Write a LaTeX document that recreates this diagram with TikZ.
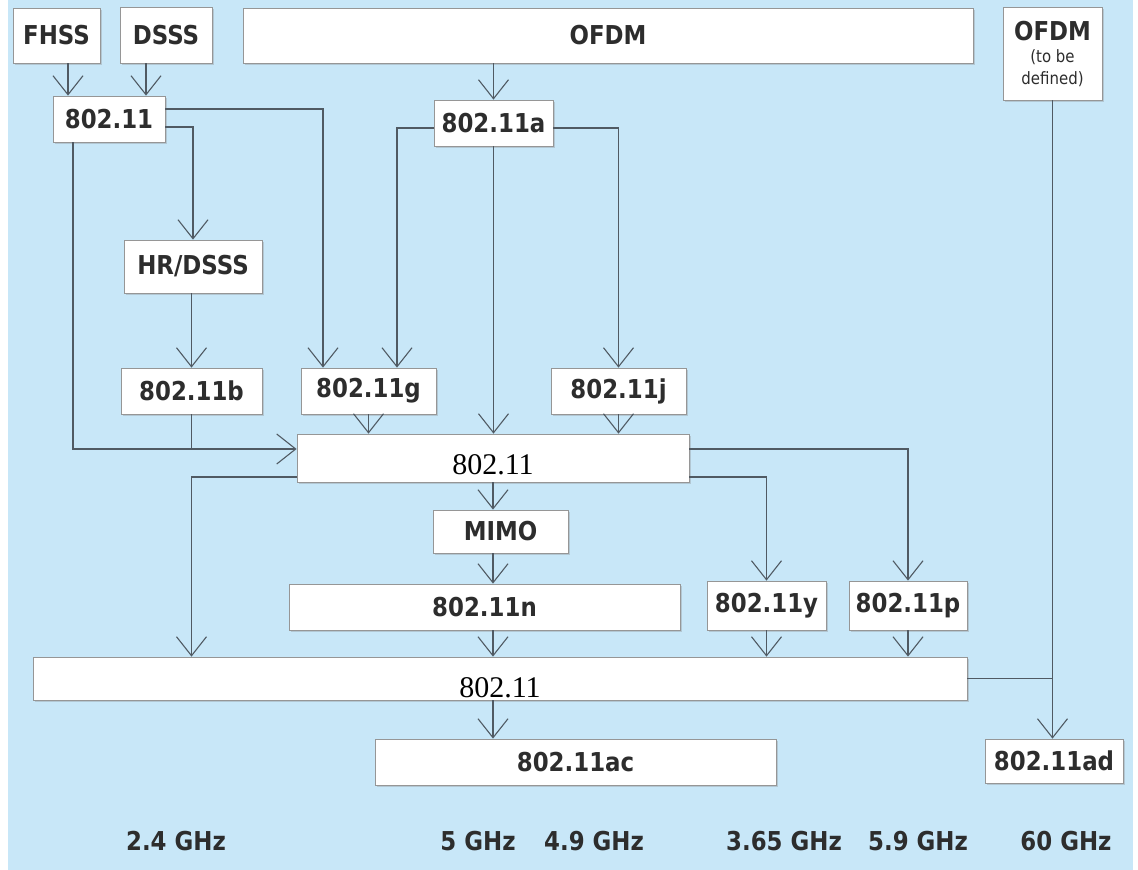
\documentclass[tikz,border=0pt]{standalone}
\usepackage{fontspec}
\setmainfont{DejaVu Sans}
\newfontfamily\lblfont[FakeStretch=0.88]{DejaVu Sans}
\newfontfamily\numfont{Liberation Serif}
\usetikzlibrary{arrows.meta,positioning,calc,shadows}
\definecolor{skybg}{RGB}{200,231,248}
\definecolor{wire}{RGB}{80,90,99}
\definecolor{ink}{RGB}{45,45,45}
\definecolor{rim}{RGB}{150,150,150}

\begin{document}
\begin{tikzpicture}[
  x=1pt, y=-1pt,
  font=\lblfont\bfseries\fontsize{26}{28}\selectfont,
  box/.style={draw=rim, line width=0.8pt, fill=white, text=ink, inner sep=0pt,
    drop shadow={shadow xshift=2pt, shadow yshift=-2pt, opacity=0.3}},
  bar/.style={box, text=black, font=\numfont\fontsize{30}{30}\selectfont},
  link/.style={draw=wire, line width=1.4pt},
  arr/.style={link, -{Straight Barb[length=19pt,width=30pt,line width=1.1pt]}},
  freq/.style={text=ink}
]
\useasboundingbox (0,0) rectangle (1138,870);
\fill[white] (0,0) rectangle (1138,870);
\fill[skybg] (8,0) rectangle (1133,870);

% top row
\node[box, minimum width=87, minimum height=55] (fhss) at (56.5,35.5) {FHSS};
\node[box, minimum width=92, minimum height=56] (dsss) at (166,35) {DSSS};
\node[box, minimum width=730, minimum height=55] (ofdm) at (608,35.5) {OFDM};
\node[box, minimum width=99, minimum height=93, align=center] (ofdmtbd) at (1052.5,53.5)
  {OFDM\\[-6pt]{\fontsize{17}{18}\selectfont\mdseries (to be}\\[-6pt]{\fontsize{17}{18}\selectfont\mdseries defined)}};

% amendments
\node[box, minimum width=112, minimum height=46] (base) at (109,119) {802.11};
\node[box, minimum width=119, minimum height=46] (a) at (493.5,123) {802.11a};
\node[box, minimum width=138, minimum height=53] (hr) at (193,266.5) {HR/DSSS};
\node[box, minimum width=141, minimum height=46] (b) at (191.5,391) {802.11b};
\node[box, minimum width=135, minimum height=46] (g) at (368.5,391) {802.11g};
\node[box, minimum width=135, minimum height=46] (j) at (618.5,391) {802.11j};
\node[bar, minimum width=392, minimum height=48] (mid) at (493,458) {\raisebox{-16pt}[0pt][0pt]{802.11}};
\node[box, minimum width=135, minimum height=43] (mimo) at (500.5,531.5) {MIMO};
\node[box, minimum width=391, minimum height=46] (n) at (484.5,607) {802.11n};
\node[box, minimum width=119, minimum height=49] (y) at (766.5,605.5) {802.11y};
\node[box, minimum width=118, minimum height=49] (p) at (908,605.5) {802.11p};
\node[bar, minimum width=934, minimum height=43] (bot) at (500,678.5) {\raisebox{-19pt}[0pt][0pt]{802.11}};
\node[box, minimum width=401, minimum height=46] (ac) at (575.5,762) {802.11ac};
\node[box, minimum width=138, minimum height=44] (ad) at (1054,761) {802.11ad};

% bands
\foreach \xx/\nm/\txt in {176/f24/2.4 GHz, 478/f5/5 GHz, 594/f49/4.9 GHz,
                          784/f365/3.65 GHz, 918/f59/5.9 GHz, 1066/f60/60 GHz}
  \node[freq] (\nm) at (\xx,841) {\txt};

\coordinate (midin) at ([yshift=9pt]mid.west);
\coordinate (midout) at ([yshift=-19pt]mid.west);

% connectors
\draw[arr] ([xshift=11.5pt]fhss.south) -- ([xshift=11.5pt]fhss.south |- base.north);
\draw[arr] ([xshift=-20pt]dsss.south) -- ([xshift=-20pt]dsss.south |- base.north);
\draw[arr] (a.north |- ofdm.south) -- (a.north);
\draw[arr] ([yshift=10pt]base.east) -| ([xshift=-45.5pt]g.north);
\draw[arr] ([yshift=-8pt]base.east) -| (hr.north);
\draw[arr] ([xshift=-36pt]base.south) |- (midin);
\draw[arr] (b.north |- hr.south) -- (b.north);
\draw[link] (b.south) -- (b.south |- midin);
\draw[arr] ([yshift=-5pt]a.west) -| ([xshift=28.5pt]g.north);
\draw[arr] ([yshift=-5pt]a.east) -| (j.north);
\draw[arr] (a.south) -- (a.south |- mid.north);
\draw[arr] (g.south) -- (g.south |- mid.north);
\draw[arr] (j.south) -- (j.south |- mid.north);
\draw[arr] ([yshift=9pt]mid.east) -| (p.north);
\draw[arr] ([yshift=-19pt]mid.east) -| (y.north);
\draw[arr] (midout) -| (bot.north -| b.south);
\draw[arr] (mid.south) -- (mid.south |- mimo.north);
\draw[arr] (mid.south |- mimo.south) -- (mid.south |- n.north);
\draw[arr] (mid.south |- n.south) -- (mid.south |- bot.north);
\draw[arr] (y.south) -- (y.south |- bot.north);
\draw[arr] (p.south) -- (p.south |- bot.north);
\draw[arr] (mid.south |- bot.south) -- (mid.south |- ac.north);
\draw[arr] (ofdmtbd.south) -- (ofdmtbd.south |- ad.north);
\draw[link] (bot.east) -- (ofdmtbd.south |- bot.east);
\end{tikzpicture}
\end{document}
